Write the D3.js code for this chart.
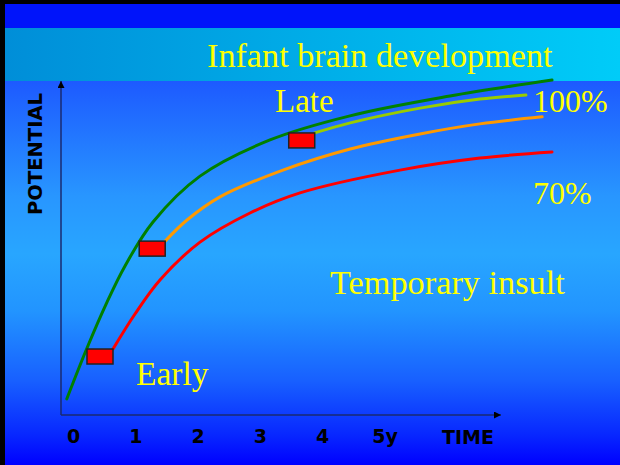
<!DOCTYPE html>
<html><head><meta charset="utf-8">
<script src="https://cdn.jsdelivr.net/npm/d3@7"></script>
<style>
html,body{margin:0;padding:0;background:#000;}
svg{display:block;}
</style></head>
<body>
<svg id="c" width="620" height="465"></svg>
<script>
// ---- data ----
const timeTicks = [0, 1, 2, 3, 4, 5];
const tickLabels = ["0", "1", "2", "3", "4", "5y"];
// [time (years), potential (%)]
const normalCurve = [[-0.1, 4.8], [0.225, 20.0], [0.546, 33.7], [0.835, 44.5], [1.284, 57.6], [2.039, 71.3], [3.162, 82.1], [4.446, 89.3], [6.051, 95.2], [7.689, 100]];
const lateCurve   = [[3.88, 84.2], [4.45, 87.2], [5.57, 91.6], [6.53, 94.3], [7.27, 95.5]];
const midCurve    = [[1.48, 51.9], [1.83, 58.2], [2.36, 65.1], [3.37, 73.1], [4.45, 79.4], [5.57, 83.9], [6.53, 86.9], [7.53, 89.0]];
const earlyCurve  = [[0.642, 19.7], [0.995, 30.15], [1.396, 40.3], [2.039, 51.6], [2.841, 60.3], [3.644, 66.3], [5.249, 73.1], [6.533, 76.7], [7.689, 78.5]];
const insults     = [[0.642, 19.7], [1.48, 51.9], [3.88, 84.2]];

const svg = d3.select("#c");
const defs = svg.append("defs");

// background gradients
const g1 = defs.append("linearGradient").attr("id", "mainBg").attr("x1", 0).attr("y1", 0).attr("x2", 0).attr("y2", 1);
[[0, "#1d5aff"], [0.3, "#2896ff"], [0.45, "#28a6ff"], [0.6, "#2294ff"], [0.78, "#1860ff"], [0.92, "#0828ff"], [1, "#0000ff"]]
  .forEach(s => g1.append("stop").attr("offset", s[0]).attr("stop-color", s[1]));
const g2 = defs.append("linearGradient").attr("id", "bandBg").attr("x1", 0).attr("y1", 0).attr("x2", 1).attr("y2", 0);
[[0, "#008ed8"], [1, "#00ccf8"]].forEach(s => g2.append("stop").attr("offset", s[0]).attr("stop-color", s[1]));

defs.append("marker").attr("id", "arr").attr("viewBox", "0 0 10 10").attr("refX", 10).attr("refY", 5)
  .attr("markerWidth", 7).attr("markerHeight", 7).attr("markerUnits", "userSpaceOnUse").attr("orient", "auto")
  .append("path").attr("d", "M0,0L10,5L0,10Z").attr("fill", "#000");

// frame
svg.append("rect").attr("x", 0).attr("y", 0).attr("width", 620).attr("height", 465).attr("fill", "#000");
svg.append("rect").attr("x", 5).attr("y", 81).attr("width", 615).attr("height", 384).attr("fill", "url(#mainBg)");
svg.append("rect").attr("x", 5).attr("y", 4).attr("width", 615).attr("height", 24).attr("fill", "#0014fa");
svg.append("rect").attr("x", 5).attr("y", 28).attr("width", 615).attr("height", 53).attr("fill", "url(#bandBg)");

// title
svg.append("text").attr("x", 207).attr("y", 67).text("Infant brain development")
  .attr("font-family", "'Liberation Serif', 'Times New Roman', serif").attr("font-size", 34.2).attr("fill", "#ffff00");

// scales
const x = d3.scaleLinear().domain([0, 5]).range([73, 384.5]);
const y = d3.scaleLinear().domain([0, 100]).range([415, 80]);

// axes lines
svg.append("line").attr("x1", 61).attr("y1", 415).attr("x2", 61).attr("y2", 81)
  .attr("stroke", "#1a2a70").attr("stroke-width", 1.5).attr("marker-end", "url(#arr)");
svg.append("line").attr("x1", 61).attr("y1", 415).attr("x2", 501).attr("y2", 415)
  .attr("stroke", "#1a2a70").attr("stroke-width", 1.5).attr("marker-end", "url(#arr)");

// tick labels via axis
const ax = svg.append("g").attr("transform", "translate(0,415)")
  .call(d3.axisBottom(x).tickValues(timeTicks).tickFormat((d, i) => tickLabels[i]).tickSize(0).tickPadding(15));
ax.select(".domain").remove();
ax.selectAll("text").attr("font-family", "'DejaVu Sans', sans-serif").attr("font-weight", "bold")
  .attr("font-size", 19).attr("fill", "#000");

svg.append("text").attr("x", 468).attr("y", 444).attr("text-anchor", "middle").text("TIME")
  .attr("font-family", "'DejaVu Sans', sans-serif").attr("font-weight", "bold").attr("font-size", 19).attr("fill", "#000");

svg.append("text").attr("transform", "translate(42,154) rotate(-90)").attr("text-anchor", "middle").text("POTENTIAL")
  .attr("font-family", "'DejaVu Sans', sans-serif").attr("font-weight", "bold").attr("font-size", 19.5).attr("fill", "#000");

// curves
const line = d3.line().x(d => x(d[0])).y(d => y(d[1])).curve(d3.curveCatmullRom.alpha(0.5));
const series = [
  [earlyCurve, "#ff0000"],
  [midCurve, "#ff9900"],
  [lateCurve, "#99cc00"],
  [normalCurve, "#008000"]
];
series.forEach(s => {
  svg.append("path").datum(s[0]).attr("d", line).attr("fill", "none")
    .attr("stroke", s[1]).attr("stroke-width", 3).attr("stroke-linecap", "round");
});

// insult boxes
svg.selectAll("rect.ins").data(insults).enter().append("rect").attr("class", "ins")
  .attr("x", d => x(d[0]) - 26).attr("y", d => y(d[1]))
  .attr("width", 26).attr("height", 15)
  .attr("fill", "#ff0000").attr("stroke", "#222").attr("stroke-width", 1.5);

// annotations
const serif = "'Liberation Serif', 'Times New Roman', serif";
const notes = [["Late", 275, 112, 33], ["100%", 533, 112, 32], ["70%", 533, 204, 32], ["Temporary insult", 330, 294, 34.3], ["Early", 136, 385, 33.5]];
notes.forEach(n => {
  svg.append("text").attr("x", n[1]).attr("y", n[2]).text(n[0])
    .attr("font-family", serif).attr("font-size", n[3]).attr("fill", "#ffff00");
});
</script>
</body></html>
